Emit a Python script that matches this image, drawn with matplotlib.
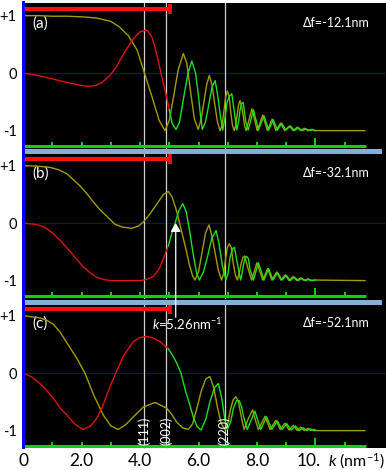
"""
CTF-style plot: three defocus values, cos (yellow) and sin (red/green) branches.
"""
import matplotlib
matplotlib.use("Agg")
import matplotlib.pyplot as plt
import matplotlib.transforms as mtransforms
from matplotlib.patches import Rectangle, ConnectionPatch

plt.rcParams["font.family"] = ["Lato", "DejaVu Sans"]
plt.rcParams["mathtext.fontset"] = "custom"
plt.rcParams["mathtext.it"] = "Lato:italic"
plt.rcParams["mathtext.rm"] = "Lato"

# ---------------- data ----------------
# panel (a)
k_yel_a = [0, 0.5, 1.0, 1.5, 2.0, 2.5, 3.0, 3.3, 3.6, 3.9,
           4.15, 4.4, 4.65, 4.85, 5.0, 5.15, 5.3, 5.48, 5.6, 5.73,
           5.86, 5.99, 6.09, 6.18, 6.28, 6.37, 6.46, 6.55, 6.65, 6.74,
           6.81, 6.87, 6.93, 6.99, 7.05, 7.1, 7.16, 7.22, 7.27, 7.32,
           7.37, 7.42, 7.47, 7.53, 7.58, 7.63, 7.73, 7.83, 7.92, 8.01,
           8.2, 8.36, 8.52, 8.65, 8.81, 8.95, 9.11, 9.24, 9.38, 9.5,
           9.62, 9.74, 9.86, 9.98, 11.7]
v_yel_a = [1.0, 1.0, 0.99, 0.99, 0.98, 0.96, 0.9, 0.8, 0.65, 0.4,
           0.0, -0.4, -0.82, -1.0, -0.82, -0.4, 0.05, 0.34, 0.17, -0.33,
           -0.8, -0.98, -0.8, -0.52, -0.2, -0.04, -0.2, -0.52, -0.85, -1.0,
           -0.9, -0.66, -0.41, -0.31, -0.41, -0.66, -0.9, -1.0, -0.92, -0.74,
           -0.56, -0.48, -0.56, -0.74, -0.92, -1.0, -0.81, -0.62, -0.81, -1.0,
           -0.73, -1.0, -0.8, -1.0, -0.87, -1.0, -0.92, -1.0, -0.94, -1.0,
           -0.96, -1.0, -0.98, -1.0, -1.0]
k_red_a = [0, 0.5, 0.9, 1.4, 1.94, 2.2, 2.45, 2.7, 2.97, 3.2,
           3.42, 3.6, 3.77, 4.0, 4.23, 4.4, 4.51, 4.65, 4.79, 4.9, 5.0]
v_red_a = [0.0, -0.04, -0.09, -0.15, -0.21, -0.23, -0.22, -0.16, -0.04, 0.12,
           0.32, 0.47, 0.6, 0.72, 0.75, 0.63, 0.45, 0.15, -0.17, -0.4, -0.64]
k_grn_a = [5.0, 5.1, 5.23, 5.35, 5.5, 5.64, 5.77, 5.9, 6.0, 6.07,
           6.13, 6.24, 6.35, 6.46, 6.57, 6.66, 6.75, 6.83, 6.9, 6.98,
           7.06, 7.14, 7.22, 7.31, 7.37, 7.42, 7.47, 7.53, 7.58, 7.62,
           7.7, 7.79, 7.88, 7.97, 8.05, 8.24, 8.4, 8.56, 8.7, 8.85,
           8.99, 9.15, 9.28, 9.42, 9.55, 9.68, 9.8, 9.9, 10.0]
v_grn_a = [-0.64, -0.88, -0.98, -0.85, -0.4, 0.0, 0.21, 0.0, -0.4, -0.75,
           -0.98, -0.85, -0.55, -0.25, -0.13, -0.4, -0.75, -0.99, -0.8, -0.5,
           -0.4, -0.36, -0.65, -0.99, -0.85, -0.65, -0.53, -0.51, -0.7, -0.85,
           -0.99, -0.82, -0.64, -0.82, -0.99, -0.74, -0.99, -0.81, -0.99, -0.87,
           -0.99, -0.92, -1.0, -0.95, -1.0, -0.97, -1.0, -0.98, -1.0]

# panel (b)
k_yel_b = [0, 0.5, 0.91, 1.2, 1.49, 1.94, 2.2, 2.41, 2.65, 2.86,
           3.14, 3.4, 3.71, 3.95, 4.11, 4.35, 4.57, 4.8, 4.97, 5.1,
           5.25, 5.4, 5.54, 5.7, 5.8, 5.88, 6.0, 6.12, 6.24, 6.36,
           6.47, 6.58, 6.68, 6.79, 6.86, 6.92, 6.99, 7.05, 7.12, 7.19,
           7.26, 7.33, 7.39, 7.46, 7.52, 7.58, 7.7, 7.82, 8.0, 8.2,
           8.37, 8.51, 8.68, 8.82, 8.97, 9.1, 9.24, 9.37, 9.5, 9.62,
           9.74, 9.86, 9.95, 11.7]
v_yel_b = [1.0, 0.99, 0.97, 0.93, 0.86, 0.65, 0.5, 0.36, 0.22, 0.12,
           -0.02, -0.07, -0.09, -0.05, 0.02, 0.17, 0.33, 0.5, 0.55, 0.45,
           0.21, -0.1, -0.39, -0.75, -0.92, -0.99, -0.85, -0.51, -0.17, -0.03,
           -0.25, -0.55, -0.82, -0.99, -0.88, -0.65, -0.42, -0.36, -0.42, -0.7,
           -0.9, -0.99, -0.88, -0.7, -0.6, -0.57, -0.8, -0.99, -0.69, -0.99,
           -0.79, -0.99, -0.85, -0.99, -0.9, -1.0, -0.93, -1.0, -0.95, -1.0,
           -0.97, -1.0, -0.99, -1.0]
k_red_b = [0, 0.4, 0.69, 1.0, 1.26, 1.55, 1.83, 2.05, 2.28, 2.5,
           2.74, 3.0, 3.5, 4.0, 4.22, 4.45, 4.65, 4.79, 4.97]
v_red_b = [0.0, -0.02, -0.06, -0.17, -0.3, -0.46, -0.63, -0.76, -0.86, -0.94,
           -0.98, -1.0, -1.0, -1.0, -0.98, -0.93, -0.8, -0.63, -0.39]
k_grn_b = [4.97, 5.1, 5.2, 5.33, 5.46, 5.58, 5.7, 5.82, 5.94, 6.03,
           6.17, 6.3, 6.45, 6.6, 6.7, 6.82, 6.94, 7.01, 7.08, 7.16,
           7.23, 7.33, 7.44, 7.49, 7.54, 7.6, 7.65, 7.71, 7.76, 7.88,
           8.05, 8.24, 8.4, 8.55, 8.71, 8.86, 9.01, 9.14, 9.28, 9.41,
           9.54, 9.66, 9.78, 9.9, 10.0]
v_grn_b = [-0.39, -0.15, 0.0, 0.22, 0.34, 0.2, -0.15, -0.55, -0.88, -0.99,
           -0.85, -0.6, -0.27, -0.13, -0.35, -0.75, -0.99, -0.88, -0.6, -0.45,
           -0.42, -0.7, -0.99, -0.88, -0.72, -0.6, -0.58, -0.62, -0.8, -0.99,
           -0.69, -0.99, -0.79, -0.99, -0.86, -0.99, -0.91, -1.0, -0.94, -1.0,
           -0.96, -1.0, -0.98, -1.0, -0.99]

# panel (c)
k_yel_c = [0, 0.57, 0.8, 1.03, 1.25, 1.49, 1.83, 2.11, 2.41, 2.74,
           3.0, 3.25, 3.5, 3.77, 4.11, 4.51, 4.91, 5.1, 5.25, 5.45,
           5.65, 5.8, 5.95, 6.1, 6.25, 6.39, 6.52, 6.65, 6.78, 6.91,
           7.0, 7.1, 7.19, 7.28, 7.37, 7.46, 7.56, 7.7, 7.85, 7.95,
           8.05, 8.28, 8.45, 8.65, 8.8, 8.96, 9.1, 9.25, 9.38, 9.5,
           9.62, 9.74, 9.85, 9.95, 10.05, 11.7]
v_yel_c = [1.0, 0.96, 0.92, 0.85, 0.72, 0.53, 0.26, 0.0, -0.38, -0.73,
           -0.92, -0.98, -0.9, -0.76, -0.59, -0.51, -0.61, -0.73, -0.85, -0.95,
           -0.98, -0.88, -0.6, -0.3, -0.1, -0.06, -0.25, -0.6, -0.88, -0.98,
           -0.88, -0.62, -0.46, -0.41, -0.5, -0.75, -0.98, -0.8, -0.64, -0.82,
           -0.98, -0.75, -0.98, -0.82, -0.98, -0.87, -0.99, -0.91, -1.0, -0.94,
           -1.0, -0.96, -1.0, -0.98, -1.0, -1.0]
k_red_c = [0, 0.3, 0.57, 0.8, 1.03, 1.25, 1.49, 1.75, 2.05, 2.3,
           2.51, 2.7, 2.86, 3.0, 3.14, 3.42, 3.77, 4.0, 4.23, 4.45, 4.68, 4.97]
v_red_c = [0.0, -0.07, -0.18, -0.3, -0.44, -0.6, -0.73, -0.88, -0.98, -0.92,
           -0.79, -0.6, -0.38, -0.2, -0.03, 0.29, 0.55, 0.62, 0.64, 0.61, 0.55, 0.42]
k_grn_c = [4.97, 5.1, 5.25, 5.4, 5.55, 5.7, 5.82, 5.95, 6.09, 6.25,
           6.39, 6.55, 6.68, 6.8, 6.9, 6.99, 7.1, 7.2, 7.3, 7.4,
           7.48, 7.54, 7.67, 7.8, 7.93, 8.03, 8.13, 8.33, 8.51, 8.7,
           8.86, 9.02, 9.17, 9.32, 9.45, 9.58, 9.7, 9.82, 9.93, 10.02]
v_grn_c = [0.42, 0.32, 0.18, 0.0, -0.3, -0.55, -0.76, -0.93, -0.99, -0.8,
           -0.5, -0.25, -0.18, -0.45, -0.8, -0.98, -0.85, -0.6, -0.48, -0.48,
           -0.6, -0.75, -0.98, -0.82, -0.66, -0.82, -0.98, -0.76, -0.98, -0.83,
           -0.98, -0.88, -0.99, -0.92, -1.0, -0.95, -1.0, -0.97, -1.0, -1.0]

panel_letters = ["(a)", "(b)", "(c)"]
defocus_labels = ["\u0394f=-12.1nm", "\u0394f=-32.1nm", "\u0394f=-52.1nm"]

k_hkl = [4.15, 4.89, 6.89]
hkl_labels = ["(111)", "(002)", "(220)"]

k_ticks = [1, 2, 3, 4, 5, 6, 7, 8, 9, 10, 11]
k_major = 10
k_axis_end = 11.75
baseline = -1.27

bar_end = 5.02
bar_level = 1.11

k_mark = 5.22
k_mark_label = r"$k$=5.26nm$^{-1}$"

x_tick_pos = [0, 2, 4, 6, 8, 10]
x_tick_labels = ["0", "2.0", "4.0", "6.0", "8.0", "10."]
y_tick_pos = [1, 0, -1]
y_tick_labels = ["+1", "0", "-1"]

YEL = "#a39c00"
RED = "#e21010"
GRN = "#1fe01f"

# ---------------- layout (pixels, origin top-left) ----------------
W, H = 386, 470


def fig_rect(x0, y0, x1, y1):
    return [x0 / W, 1 - y1 / H, (x1 - x0) / W, (y1 - y0) / H]


def add_box(fig, x0, y0, x1, y1, color, z):
    l, b, w, h = fig_rect(x0, y0, x1, y1)
    fig.add_artist(Rectangle((l, b), w, h, transform=fig.transFigure,
                             facecolor=color, edgecolor="none", zorder=z))


fig = plt.figure(figsize=(W / 100, H / 100), dpi=100)
fig.patch.set_facecolor("white")

add_box(fig, 24, 3, W, 448, "black", -1)

panels = [
    (k_yel_a, v_yel_a, k_red_a, v_red_a, k_grn_a, v_grn_a),
    (k_yel_b, v_yel_b, k_red_b, v_red_b, k_grn_b, v_grn_b),
    (k_yel_c, v_yel_c, k_red_c, v_red_c, k_grn_c, v_grn_c),
]
tops = [3, 153, 303]
axes = []

for i, (ky, vy, kr, vr, kg, vg) in enumerate(panels):
    ax = fig.add_axes(fig_rect(23, tops[i], W, tops[i] + 146))
    ax.set_xlim(-0.01, 12.42)
    ax.set_ylim(-1.32, 1.22)
    ax.patch.set_visible(False)
    for s in ax.spines.values():
        s.set_visible(False)

    ax.axhline(0, color="#0000d8", lw=0.8, zorder=1)
    for k in k_hkl:
        ax.axvline(k, color="#d0d0d0", lw=0.9, zorder=1)

    # green k-axis with ticks
    ax.plot([0, k_axis_end], [baseline, baseline], color="#10d010", lw=2.2,
            solid_capstyle="butt", zorder=2)
    tick_tops = [baseline + (0.14 if k == k_major else 0.07) for k in k_ticks]
    ax.vlines(k_ticks, baseline, tick_tops, color="#10d010", lw=1.4, zorder=2)

    # red resolution bar
    ax.plot([0, bar_end], [bar_level, bar_level], color="#ff1010", lw=2.9,
            solid_capstyle="butt", zorder=3)
    ax.plot([bar_end], [bar_level], marker="|", ms=7, mew=2.6,
            color="#ff1010", zorder=3)

    ax.plot(ky, vy, color=YEL, lw=1.0, zorder=4)
    ax.plot(kr, vr, color=RED, lw=1.0, zorder=5)
    ax.plot(kg, vg, color=GRN, lw=1.0, zorder=5)

    ax.text(0.025, 0.86, panel_letters[i], transform=ax.transAxes,
            color="white", fontsize=11, ha="left", va="center")
    ax.text(0.956, 0.86, defocus_labels[i], transform=ax.transAxes,
            color="white", fontsize=9, ha="right", va="center")

    ax.set_yticks(y_tick_pos)
    ax.set_yticklabels(y_tick_labels)
    ax.tick_params(axis="y", length=0, pad=4.5, labelsize=10.5)
    ax.set_xticks([])
    axes.append(ax)

axc = axes[2]
axc.set_xticks(x_tick_pos)
axc.set_xticklabels(x_tick_labels)
axc.tick_params(axis="x", length=0, pad=3, labelsize=12.5)
# "10." sits just left of the axis name
last = axc.get_xticklabels()[-1]
last.set_ha("right")
last.set_transform(last.get_transform()
                   + mtransforms.ScaledTranslation(0.05, 0, fig.dpi_scale_trans))
fig.text(385 / W, 1 - 461 / H, r"$k$ (nm$^{-1}$)", fontsize=11.5,
         ha="right", va="center")

for k, lbl in zip(k_hkl, hkl_labels):
    axc.text(k, -1.25, lbl, rotation=90, color="white", fontsize=9,
             ha="center", va="bottom", zorder=6)

axc.text(0.355, 0.856, k_mark_label, transform=axc.transAxes, color="white",
         fontsize=9.5, ha="left", va="center")

# separators and left axis
add_box(fig, 25, 149, 382, 154, "#86afd6", 1)
add_box(fig, 25, 299.5, 382, 304.5, "#86afd6", 1)
add_box(fig, 22, 1, 25, 449, "#0000ff", 1)

# k marker arrow from panel (c) up to the zero crossing in panel (b)
con = ConnectionPatch(xyA=(k_mark, 0.97), coordsA=axc.transData,
                      xyB=(k_mark, 0.0), coordsB=axes[1].transData,
                      arrowstyle="-|>,head_length=0.5,head_width=0.3",
                      mutation_scale=10, color="white", lw=0.9, zorder=7)
fig.add_artist(con)

fig.savefig("out.png", dpi=100, facecolor="white")
